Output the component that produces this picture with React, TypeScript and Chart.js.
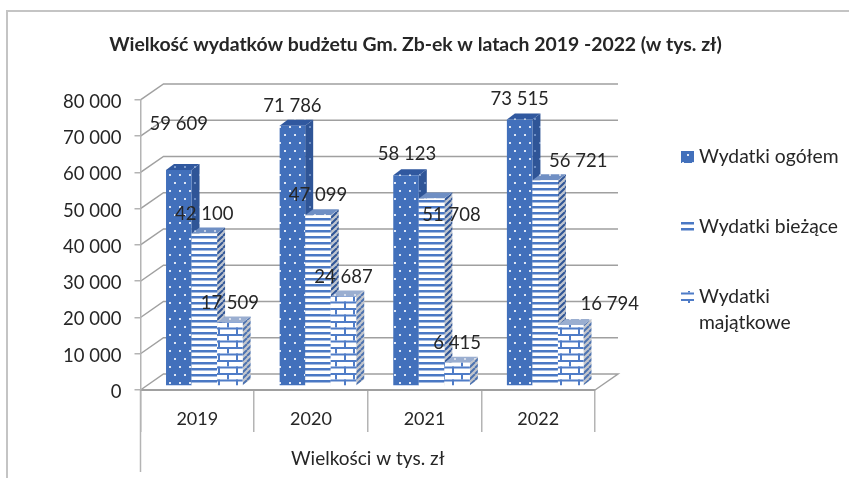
import React, { useEffect, useRef } from "react";
import { Chart, registerables } from "chart.js";

Chart.register(...registerables);

const categories = ["2019", "2020", "2021", "2022"];
const seriesNames = ["Wydatki ogółem", "Wydatki bieżące", "Wydatki majątkowe"];
const wydatkiOgolem = [59609, 71786, 58123, 73515];
const wydatkiBiezace = [42100, 47099, 51708, 56721];
const wydatkiMajatkowe = [17509, 24687, 6415, 16794];
const yTicks = [0, 10000, 20000, 30000, 40000, 50000, 60000, 70000, 80000];
const chartTitle = "Wielkość wydatków budżetu Gm. Zb-ek w latach 2019 -2022 (w tys. zł)";
const xAxisTitle = "Wielkości w tys. zł";

const FONT = "Lato, 'Open Sans', sans-serif";
const TEXT = "#262626";
const GRID = "#a0a0a0";
const AXIS = "#b4b4b4";
const DEPTH_X = 23;
const DEPTH_Y = -16;
const BAR_DX = 8;
const BAR_DY = -6;
const SHIFT_X = 7;
const SHIFT_Y = -4;

// label nudges from each bar's top centre, [series][category]
const nudges = [
  [[0, -46], [0, -20], [1, -21], [0, -20]],
  [[0, -19], [0, -20], [20, 16], [33, -19]],
  [[0, -19], [0, -19], [0, -20], [39, -21]],
];

const fmt = (v: number) => String(v).replace(/\B(?=(\d{3})+$)/g, " ");

function tile(w: number, h: number, paint: (c: CanvasRenderingContext2D) => void) {
  const cv = document.createElement("canvas");
  cv.width = w;
  cv.height = h;
  const c = cv.getContext("2d")!;
  paint(c);
  return cv;
}

function dots(base: string, dot: string) {
  return tile(10, 16, (c) => {
    c.fillStyle = base;
    c.fillRect(0, 0, 10, 16);
    c.fillStyle = dot;
    c.fillRect(2, 2, 2, 2);
    c.fillRect(7, 10, 2, 2);
  });
}
function stripes(a: string, b: string) {
  return tile(4, 6, (c) => {
    c.fillStyle = b;
    c.fillRect(0, 0, 4, 6);
    c.fillStyle = a;
    c.fillRect(0, 0, 4, 2.5);
  });
}
function bricks(mortar: string, fill: string) {
  return tile(18, 13, (c) => {
    c.fillStyle = fill;
    c.fillRect(0, 0, 18, 13);
    c.fillStyle = mortar;
    c.fillRect(0, 0, 18, 2);
    c.fillRect(0, 6.5, 18, 2);
    c.fillRect(4, 0, 2, 6.5);
    c.fillRect(13, 6.5, 2, 6.5);
  });
}
function hatch(a: string, b: string) {
  return tile(6, 6, (c) => {
    c.fillStyle = b;
    c.fillRect(0, 0, 6, 6);
    c.strokeStyle = a;
    c.lineWidth = 2;
    c.beginPath();
    for (let i = -6; i <= 12; i += 6) {
      c.moveTo(i, 6);
      c.lineTo(i + 6, 0);
    }
    c.stroke();
  });
}

export default function App() {
  const ref = useRef<HTMLCanvasElement>(null);
  useEffect(() => {
    const ctx = ref.current!.getContext("2d")!;
    const p = (cv: HTMLCanvasElement) => ctx.createPattern(cv, "repeat")!;
    const fronts = [
      p(dots("#4270bb", "#dfe7f5")),
      p(stripes("#4a78c4", "#ffffff")),
      p(bricks("#4f7cc7", "#ffffff")),
    ];
    const sides = [
      p(dots("#2f5597", "#6f8fc4")),
      p(hatch("#2f5597", "#bfc5cf")),
      p(hatch("#4c72b0", "#c3c6cc")),
    ];
    const tops = [
      p(dots("#30589f", "#7f9ccb")),
      p(dots("#6f8fc4", "#c4d0e6")),
      p(dots("#9aaeD0", "#d5dcea")),
    ];

    const threeD = {
      id: "threeD",
      beforeDraw(chart: any) {
        const c = chart.ctx;
        c.save();
        c.fillStyle = "#fff";
        c.fillRect(0, 0, chart.width, chart.height);
        const a = chart.chartArea;
        // outer frame: top and left edges
        c.strokeStyle = "#c4c4c4";
        c.lineWidth = 2;
        c.beginPath();
        c.moveTo(7, 478);
        c.lineTo(7, 11);
        c.lineTo(849, 11);
        c.stroke();
        // back wall and side wall lines
        c.strokeStyle = GRID;
        c.lineWidth = 1.5;
        const y = chart.scales.y;
        for (const t of yTicks) {
          const py = y.getPixelForValue(t);
          c.beginPath();
          c.moveTo(a.left, py);
          c.lineTo(a.left + DEPTH_X, py + DEPTH_Y);
          c.lineTo(a.right + DEPTH_X, py + DEPTH_Y);
          if (t === 0) c.lineTo(a.right, py);
          c.stroke();
        }
        // tall left axis drop past the year row
        c.strokeStyle = AXIS;
        c.beginPath();
        c.moveTo(a.left, a.bottom);
        c.lineTo(a.left, 472);
        c.stroke();
        c.restore();
      },
      // paints series front to back so each bar covers the side of the one before it
      beforeDatasetsDraw(chart: any) {
        const c = chart.ctx;
        c.save();
        c.translate(SHIFT_X, SHIFT_Y);
        chart.data.datasets.forEach((_: any, i: number) => {
          const meta = chart.getDatasetMeta(i);
          for (const el of meta.data) {
            const half = el.width / 2;
            const l = el.x - half;
            const r = el.x + half;
            const t = el.y;
            const b = el.base;
            c.fillStyle = sides[i];
            c.beginPath();
            c.moveTo(r, t);
            c.lineTo(r + BAR_DX, t + BAR_DY);
            c.lineTo(r + BAR_DX, b + BAR_DY);
            c.lineTo(r, b);
            c.closePath();
            c.fill();
            c.fillStyle = tops[i];
            c.beginPath();
            c.moveTo(l, t);
            c.lineTo(l + BAR_DX, t + BAR_DY);
            c.lineTo(r + BAR_DX, t + BAR_DY);
            c.lineTo(r, t);
            c.closePath();
            c.fill();
          }
          meta.controller.draw();
        });
        c.restore();
      },
      beforeDatasetDraw() {
        return false;
      },
      afterDatasetsDraw(chart: any) {
        const c = chart.ctx;
        // data labels
        c.save();
        c.font = `18.5px ${FONT}`;
        c.fillStyle = TEXT;
        c.textAlign = "center";
        c.textBaseline = "middle";
        chart.data.datasets.forEach((ds: any, i: number) => {
          chart.getDatasetMeta(i).data.forEach((el: any, j: number) => {
            const [nx, ny] = nudges[i][j];
            c.fillText(fmt(ds.data[j]), el.x + SHIFT_X + nx, el.y + SHIFT_Y + ny);
          });
        });
        // legend
        c.textAlign = "left";
        c.font = `19.3px ${FONT}`;
        const rows = [[seriesNames[0]], [seriesNames[1]], seriesNames[2].split(" ")];
        const rowY = [157, 227, 297];
        rows.forEach((lines, i) => {
          c.fillStyle = fronts[i];
          c.fillRect(681, rowY[i] - 6, 13, 12);
          c.fillStyle = TEXT;
          lines.forEach((s: string, k: number) => c.fillText(s, 699, rowY[i] + k * 26));
        });
        c.restore();
      },
    };

    const chart = new Chart(ctx, {
      type: "bar",
      data: {
        labels: categories,
        datasets: [
          { label: seriesNames[0], data: wydatkiOgolem, backgroundColor: fronts[0] },
          { label: seriesNames[1], data: wydatkiBiezace, backgroundColor: fronts[1] },
          { label: seriesNames[2], data: wydatkiMajatkowe, backgroundColor: fronts[2] },
        ] as any,
      },
      plugins: [threeD as any],
      options: {
        responsive: false,
        animation: false,
        layout: { padding: { right: 18, left: 0, top: 0, bottom: 0 } },
        datasets: { bar: { categoryPercentage: 0.674, barPercentage: 1 } },
        plugins: {
          legend: { display: false },
          tooltip: { enabled: false },
          title: {
            display: true,
            text: chartTitle,
            color: TEXT,
            font: { family: FONT, size: 19.4, weight: "bold" },
            padding: { top: 33.5, bottom: 43.2 },
          },
        },
        scales: {
          x: {
            offset: true,
            grid: {
              drawOnChartArea: false,
              drawTicks: true,
              tickLength: 42,
              color: AXIS,
              lineWidth: 1.5,
              offset: true,
            },
            border: { color: GRID, width: 2 },
            ticks: { color: TEXT, font: { family: FONT, size: 18 }, padding: -24 },
            title: {
              display: true,
              text: xAxisTitle,
              color: TEXT,
              font: { family: FONT, size: 19 },
              padding: { top: 0, bottom: 8 },
            },
            afterFit: (s: any) => {
              s.height = 88;
            },
          },
          y: {
            min: 0,
            max: 80000,
            afterBuildTicks: (s: any) => {
              s.ticks = yTicks.map((value) => ({ value }));
            },
            grid: { drawOnChartArea: false, drawTicks: true, tickLength: 6, color: AXIS, lineWidth: 1.5 },
            border: { color: AXIS, width: 1.5 },
            ticks: {
              color: TEXT,
              font: { family: FONT, size: 18.5 },
              padding: 13,
              labelOffset: 2,
              callback: (v: any) => fmt(Number(v)),
            },
            afterFit: (s: any) => {
              s.width = 140.5;
            },
          },
          rightSpace: {
            type: "linear",
            position: "right",
            display: true,
            grid: { display: false },
            border: { display: false },
            ticks: { display: false },
            afterFit: (s: any) => {
              s.width = 236;
            },
          },
        },
      } as any,
    });
    return () => chart.destroy();
  }, []);
  return (
    <canvas
      ref={ref}
      width={849}
      height={478}
      style={{ position: "fixed", left: 0, top: 0, display: "block" }}
    />
  );
}
